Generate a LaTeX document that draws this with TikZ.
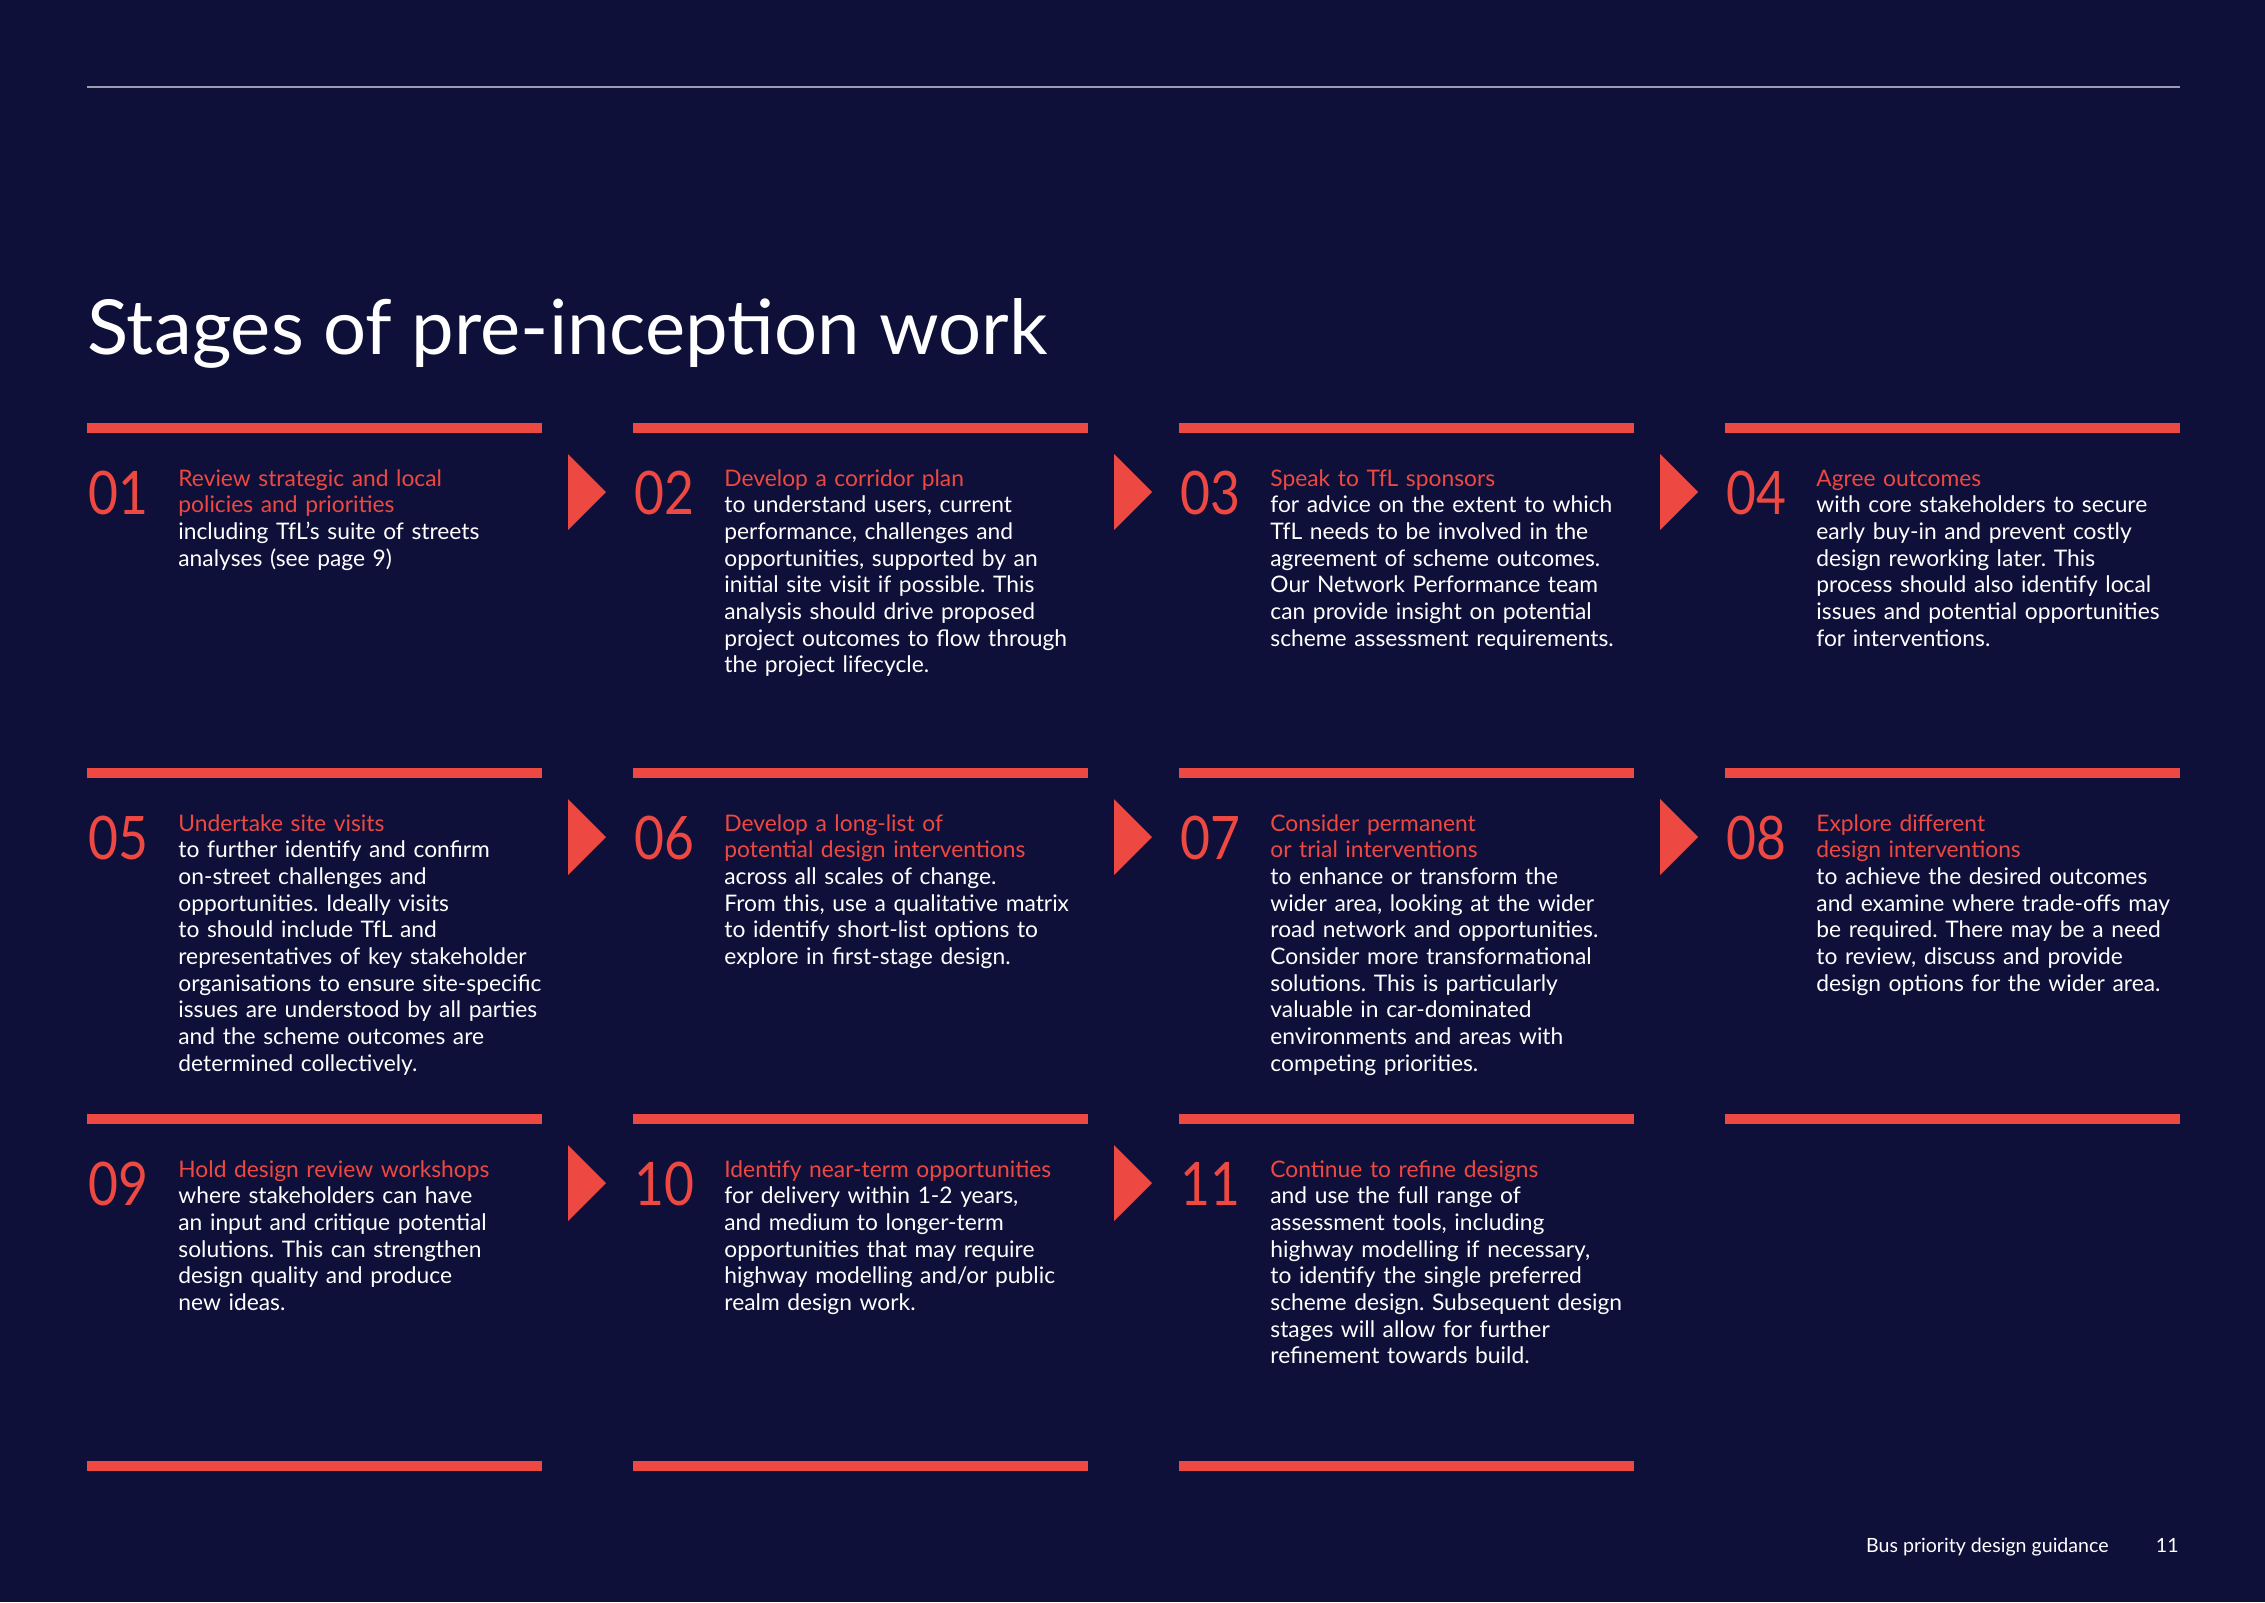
\documentclass[tikz,border=0pt]{standalone}
\usepackage{fontspec}
\setmainfont{Lato}
\newfontfamily\stagenumfam[FakeStretch=0.86]{Lato}
\usepackage{tikz}

\definecolor{navybg}{HTML}{0E1039}
\definecolor{tflred}{HTML}{EE4842}
\definecolor{rulegrey}{HTML}{9A9CB2}

\newcommand{\stagefont}{\fontsize{11.4}{13.35}\selectfont}
\newcommand{\stagenumfont}{\stagenumfam\fontsize{30}{32}\selectfont}
\newcommand{\pagetitlefont}{\fontsize{38}{42}\selectfont}
\newcommand{\footfont}{\fontsize{9.8}{12}\selectfont}
\frenchspacing

\begin{document}
\begin{tikzpicture}[x=0.5pt, y=-0.5pt,
    bar/.style={tflred, line width=5pt},
    num/.style={anchor=base west, inner sep=0pt, text=tflred, font=\stagenumfont},
    stagetext/.style={anchor=base west, inner sep=0pt, text=white, text width=220pt, align=left, font=\stagefont},
    arrowhd/.style={fill=tflred}]
  % Page
  \fill[navybg] (0,0) rectangle (2265,1602);
  \useasboundingbox (0,0) rectangle (2265,1602);
  \draw[rulegrey, line width=0.6pt] (87,87) -- (2180,87);
  \node[anchor=base west, inner sep=0pt, text=white, font=\pagetitlefont] (title) at (87,354) {Stages of pre-inception work};

  % Bars
  \draw[bar] (87,428) -- (542,428);
  \draw[bar] (633,428) -- (1088,428);
  \draw[bar] (1179,428) -- (1634,428);
  \draw[bar] (1725,428) -- (2180,428);
  \draw[bar] (87,773) -- (542,773);
  \draw[bar] (633,773) -- (1088,773);
  \draw[bar] (1179,773) -- (1634,773);
  \draw[bar] (1725,773) -- (2180,773);
  \draw[bar] (87,1119) -- (542,1119);
  \draw[bar] (633,1119) -- (1088,1119);
  \draw[bar] (1179,1119) -- (1634,1119);
  \draw[bar] (1725,1119) -- (2180,1119);
  \draw[bar] (87,1466) -- (542,1466);
  \draw[bar] (633,1466) -- (1088,1466);
  \draw[bar] (1179,1466) -- (1634,1466);

  % Arrowheads
  \fill[arrowhd] (568,454) -- (606,492) -- (568,530) -- cycle;
  \fill[arrowhd] (1114,454) -- (1152,492) -- (1114,530) -- cycle;
  \fill[arrowhd] (1660,454) -- (1698,492) -- (1660,530) -- cycle;
  \fill[arrowhd] (568,799) -- (606,837) -- (568,875) -- cycle;
  \fill[arrowhd] (1114,799) -- (1152,837) -- (1114,875) -- cycle;
  \fill[arrowhd] (1660,799) -- (1698,837) -- (1660,875) -- cycle;
  \fill[arrowhd] (568,1145) -- (606,1183) -- (568,1221) -- cycle;
  \fill[arrowhd] (1114,1145) -- (1152,1183) -- (1114,1221) -- cycle;

  % Numbers
  \node[num] (n01) at (88,514) {01};
  \node[num] (n02) at (634,514) {02};
  \node[num] (n03) at (1180,514) {03};
  \node[num] (n04) at (1726,514) {04};
  \node[num] (n05) at (88,859) {05};
  \node[num] (n06) at (634,859) {06};
  \node[num] (n07) at (1180,859) {07};
  \node[num] (n08) at (1726,859) {08};
  \node[num] (n09) at (88,1205) {09};
  \node[num] (n10) at (634,1205) {10};
  \node[num] (n11) at (1180,1205) {11};

  % Stage texts
  \node[stagetext] (s01) at (178,486) {\textcolor{tflred}{Review strategic and local\\policies and priorities}\\
    including TfL’s suite of streets\\analyses (see page 9)};
  \node[stagetext] (s02) at (724,486) {\textcolor{tflred}{Develop a corridor plan}\\
    to understand users, current\\performance, challenges and\\opportunities, supported by an\\initial site visit if possible. This\\analysis should drive proposed\\project outcomes to flow through\\the project lifecycle.};
  \node[stagetext] (s03) at (1270,486) {\textcolor{tflred}{Speak to TfL sponsors}\\
    for advice on the extent to which\\TfL needs to be involved in the\\agreement of scheme outcomes.\\Our Network Performance team\\can provide insight on potential\\scheme assessment requirements.};
  \node[stagetext] (s04) at (1816,486) {\textcolor{tflred}{Agree outcomes}\\
    with core stakeholders to secure\\early buy-in and prevent costly\\design reworking later. This\\process should also identify local\\issues and potential opportunities\\for interventions.};
  \node[stagetext] (s05) at (178,831) {\textcolor{tflred}{Undertake site visits}\\
    to further identify and confirm\\on-street challenges and\\opportunities. Ideally visits\\to should include TfL and\\representatives of key stakeholder\\organisations to ensure site-specific\\issues are understood by all parties\\and the scheme outcomes are\\determined collectively.};
  \node[stagetext] (s06) at (724,831) {\textcolor{tflred}{Develop a long-list of\\potential design interventions}\\
    across all scales of change.\\From this, use a qualitative matrix\\to identify short-list options to\\explore in first-stage design.};
  \node[stagetext] (s07) at (1270,831) {\textcolor{tflred}{Consider permanent\\or trial interventions}\\
    to enhance or transform the\\wider area, looking at the wider\\road network and opportunities.\\Consider more transformational\\solutions. This is particularly\\valuable in car-dominated\\environments and areas with\\competing priorities.};
  \node[stagetext] (s08) at (1816,831) {\textcolor{tflred}{Explore different\\design interventions}\\
    to achieve the desired outcomes\\and examine where trade-offs may\\be required. There may be a need\\to review, discuss and provide\\design options for the wider area.};
  \node[stagetext] (s09) at (178,1177) {\textcolor{tflred}{Hold design review workshops}\\
    where stakeholders can have\\an input and critique potential\\solutions. This can strengthen\\design quality and produce\\new ideas.};
  \node[stagetext] (s10) at (724,1177) {\textcolor{tflred}{Identify near-term opportunities}\\
    for delivery within 1-2 years,\\and medium to longer-term\\opportunities that may require\\highway modelling and/or public\\realm design work.};
  \node[stagetext] (s11) at (1270,1177) {\textcolor{tflred}{Continue to refine designs}\\
    and use the full range of\\assessment tools, including\\highway modelling if necessary,\\to identify the single preferred\\scheme design. Subsequent design\\stages will allow for further\\refinement towards build.};

  % Footer
  \node[anchor=base east, inner sep=0pt, text=white, font=\footfont] (foot) at (2109,1552) {Bus priority design guidance};
  \node[anchor=base east, inner sep=0pt, text=white, font=\footfont] (pagenum) at (2179,1552) {11};
\end{tikzpicture}
\end{document}
